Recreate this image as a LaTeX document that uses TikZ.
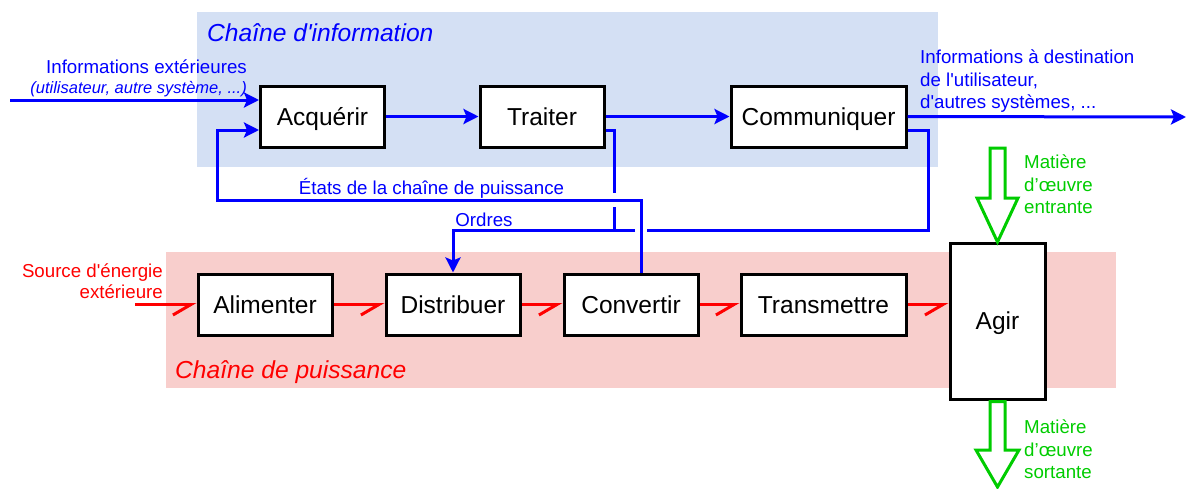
\documentclass[tikz,border=0pt]{standalone}
\usepackage{fontspec}
\setmainfont{Liberation Sans}
\usetikzlibrary{arrows.meta,calc}
\definecolor{infoblue}{RGB}{0,0,255}
\definecolor{infobg}{RGB}{212,224,244}
\definecolor{powerred}{RGB}{255,0,0}
\definecolor{powerbg}{RGB}{248,206,204}
\definecolor{matgreen}{RGB}{0,204,0}
\newcommand{\sq}{\textquotesingle}

\begin{document}
\begin{tikzpicture}[x=1pt,y=-1pt,
  block/.style={draw=black, fill=white, line width=3pt, minimum height=61pt,
    inner sep=0pt, text height=18pt, text depth=1pt,
    font=\fontsize{24.5}{29}\selectfont},
  infoline/.style={draw=infoblue, line width=3pt},
  infoarrow/.style={infoline, -{Stealth[length=15pt,width=15pt,inset=3pt]}},
  powerarrow/.style={draw=powerred, line width=3pt,
    -{Straight Barb[harpoon,swap,length=18pt,width=21pt]}},
  smalltext/.style={font=\fontsize{18.7}{22.5}\selectfont, inner sep=0pt},
  tinytext/.style={font=\fontsize{16.5}{20}\selectfont\itshape, inner sep=0pt},
  chaintitle/.style={font=\fontsize{24.6}{29}\selectfont\itshape, inner sep=0pt, anchor=west},
  matter/.style={draw=matgreen, line width=3pt, line join=miter, fill=white},
]
\useasboundingbox (0,0) rectangle (1188,488);

% chain backgrounds
\fill[infobg] (197,12) rectangle (938,167);
\fill[powerbg] (166,252) rectangle (1116,388);
\node[chaintitle, text=infoblue] (titleinfo) at (207,33) {Chaîne d\sq information};
\node[chaintitle, text=powerred] (titlepower) at (175,372) {Chaîne de puissance};

% information chain
\node[block, minimum width=124pt] (acq) at (322.5,116.5) {Acquérir};
\node[block, minimum width=124pt] (traiter) at (542,116.5) {Traiter};
\node[block, minimum width=175pt] (comm) at (818.5,116.5) {Communiquer};

% power chain
\node[block, minimum width=134pt] (ali) at (265,304.5) {Alimenter};
\node[block, minimum width=134pt] (dist) at (453,304.5) {Distribuer};
\node[block, minimum width=134pt] (conv) at (631,304.5) {Convertir};
\node[block, minimum width=165pt] (trans) at (823.5,304.5) {Transmettre};
\node[block, minimum width=95pt, minimum height=156pt] (agir) at (997.5,321) {Agir};

% helper points for the wiring
\coordinate (infoin) at (10,100);
\coordinate (yret) at (0,130);
\coordinate (infoout) at (1186,117);
\coordinate (etU) at (641,200);
\coordinate (etL) at (217,200);
\coordinate (trGapTop) at (614,193);
\coordinate (trGapBot) at (614,207);
\coordinate (trJoin) at (614,230);
\coordinate (ordR) at (928,230);
\coordinate (ordGapR) at (647,230);
\coordinate (ordGapL) at (635,230);
\coordinate (srcin) at (135,304.5);

% information flow
\draw[infoarrow] (infoin) -- (acq.west |- infoin);
\draw[infoarrow] (acq) -- (traiter);
\draw[infoarrow] (traiter) -- (comm);
\draw[infoarrow] (comm.east) -- (infoout);

% feedback from the power chain
\draw[infoarrow] (conv.north -| etU) -- (etU) -- (etL) |- (acq.west |- yret);
% orders towards the power chain
\draw[infoline] (traiter.east |- yret) -| (trGapTop);
\draw[infoline] (trGapBot) -- (trJoin);
\draw[infoline] (comm.east |- yret) -| (ordR) -- (ordGapR);
\draw[infoarrow] (ordGapL) -| (dist.north);

\node[smalltext, text=infoblue] (etatslbl) at (431.5,188) {États de la chaîne de puissance};
\node[smalltext, text=infoblue] (ordreslbl) at (484,220) {Ordres};

% labels of the external information
\node[smalltext, text=infoblue, anchor=east] (infoextlbl) at (247,67) {Informations extérieures};
\node[tinytext, text=infoblue, anchor=east] (infoextsub) at (247,89) {(utilisateur, autre système, ...)};
\node[smalltext, text=infoblue, anchor=north west, align=left] (infooutlbl) at (920,50)
  {Informations à destination\\de l\sq utilisateur,\\d\sq autres systèmes, ...};

% energy flow
\draw[powerarrow] (srcin) -- (ali.west);
\draw[powerarrow] (ali) -- (dist);
\draw[powerarrow] (dist) -- (conv);
\draw[powerarrow] (conv) -- (trans);
\draw[powerarrow] (trans.east) -- (agir.west |- trans.east);
\node[smalltext, text=powerred, anchor=north east, align=right] (srclbl) at (163,264)
  {Source d\sq énergie\\[-2pt]extérieure};

% raw material in and out
\draw[matter] (990,148) -- (1005,148) -- (1005,198) -- (1018,198) -- (997.5,242)
  -- (977,198) -- (990,198) -- cycle;
\draw[matter] (990,401.5) -- (1005,401.5) -- (1005,450) -- (1019,450) -- (997.5,487)
  -- (976,450) -- (990,450) -- cycle;
\node[smalltext, text=matgreen, anchor=north west, align=left] (matinlbl) at (1024,155)
  {Matière\\d’œuvre\\entrante};
\node[smalltext, text=matgreen, anchor=north west, align=left] (matoutlbl) at (1024,420)
  {Matière\\d’œuvre\\sortante};
\end{tikzpicture}
\end{document}
